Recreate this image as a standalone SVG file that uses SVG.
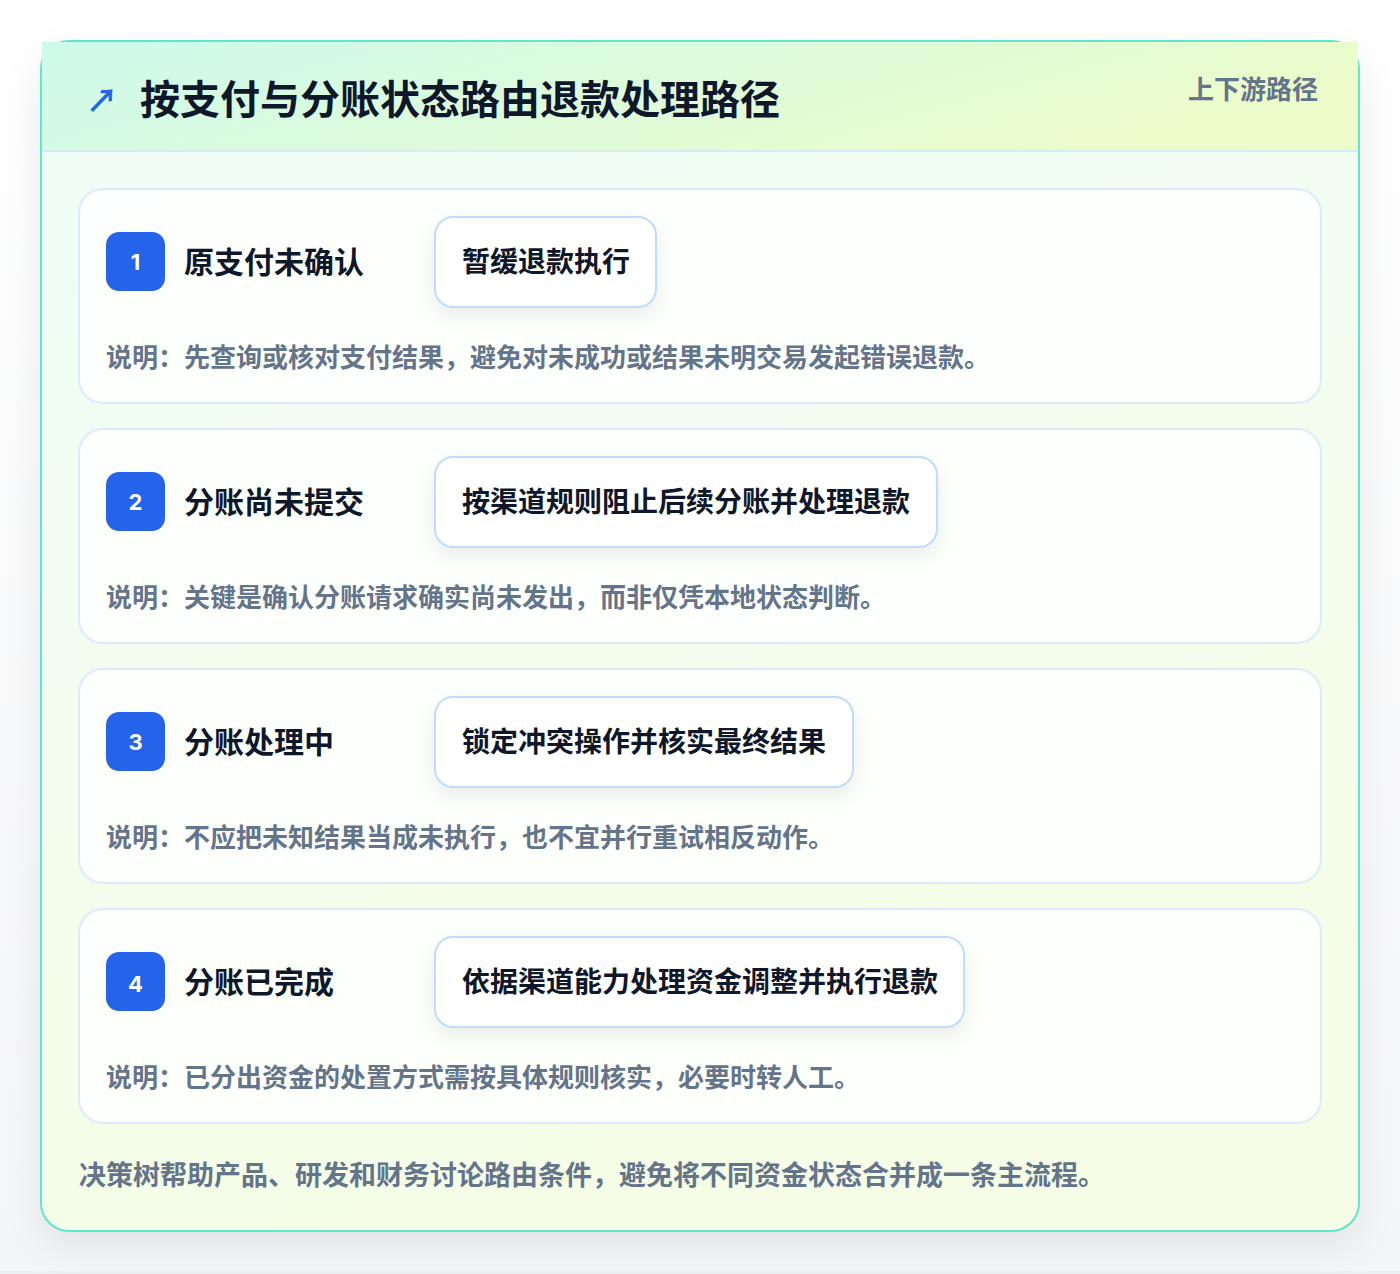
<svg xmlns="http://www.w3.org/2000/svg" width="1400" height="1274" viewBox="0 0 1400 1274">
<defs>
<linearGradient id="pageBg" x1="0" y1="0" x2="0" y2="1"><stop offset="0" stop-color="#ffffff"/><stop offset="1" stop-color="#f4f5f7"/></linearGradient>
<linearGradient id="bodyBg" x1="0" y1="0" x2="0.3" y2="1"><stop offset="0" stop-color="#effdf8"/><stop offset="1" stop-color="#f5fde6"/></linearGradient>
<linearGradient id="headBg" x1="0" y1="0" x2="1" y2="0.3"><stop offset="0" stop-color="#cdfaec"/><stop offset="1" stop-color="#ecfccb"/></linearGradient>
<filter id="cardShadow" x="-10%" y="-10%" width="120%" height="125%"><feDropShadow dx="0" dy="14" stdDeviation="18" flood-color="#0f172a" flood-opacity="0.08"/></filter>
<filter id="boxShadow" x="-20%" y="-40%" width="140%" height="190%"><feDropShadow dx="0" dy="8" stdDeviation="9" flood-color="#0f172a" flood-opacity="0.07"/></filter>
<style>
.cjk{font-family:"Noto Sans CJK SC","Noto Sans",sans-serif;font-weight:700}
.title{font-size:40px;fill:#0f172a}
.tag{font-size:26px;fill:#64748b}
.row{fill:#ffffff;fill-opacity:0.82;stroke:#dbeafe;stroke-width:2}
.badge{fill:#2563eb}
.num{font-family:Inter,"Noto Sans",sans-serif;font-weight:700;font-size:22px;fill:#ffffff}
.label{font-size:30px;fill:#0f172a}
.act{fill:#ffffff;stroke:#bfdbfe;stroke-width:2}
.acttxt{font-size:28px;fill:#0f172a}
.desc{font-size:26px;fill:#64748b}
.foot{font-size:27px;fill:#64748b}
</style>
</defs>
<rect x="0" y="0" width="1400" height="1274" fill="url(#pageBg)"/>
<rect x="0" y="1271" width="1400" height="3" fill="#eceef2"/>
<g id="card">
<rect x="41" y="41" width="1318" height="1190" rx="28" fill="url(#bodyBg)" filter="url(#cardShadow)"/>
<rect x="41" y="41" width="1318" height="1190" rx="28" fill="none" stroke="#5ee6cf" stroke-width="2"/>
<rect x="42" y="42" width="1316" height="109" fill="url(#headBg)"/>
<line x1="42" y1="151" x2="1358" y2="151" stroke="#d6ecf5" stroke-width="2"/>
</g>
<g id="header">
<text x="86" y="112" class="cjk" font-size="32" fill="#2563eb">↗</text>
<text x="140" y="114" class="cjk title">按支付与分账状态路由退款处理路径</text>
<text x="1318" y="99" class="cjk tag" text-anchor="end">上下游路径</text>
</g>
<g id="connectors"></g>
<g id="row1">
<rect x="79" y="189" width="1242" height="214" rx="24" class="row"/>
<rect x="106" y="232" width="59" height="59" rx="13" class="badge"/>
<text x="135.5" y="269.5" class="num" text-anchor="middle">1</text>
<text x="184" y="273" class="cjk label">原支付未确认</text>
<rect x="435" y="217" width="221" height="90" rx="18" class="act" filter="url(#boxShadow)"/>
<text x="462" y="271.5" class="cjk acttxt">暂缓退款执行</text>
<text x="106" y="367" class="cjk desc">说明：先查询或核对支付结果，避免对未成功或结果未明交易发起错误退款。</text>
</g>
<g id="row2">
<rect x="79" y="429" width="1242" height="214" rx="24" class="row"/>
<rect x="106" y="472" width="59" height="59" rx="13" class="badge"/>
<text x="135.5" y="509.5" class="num" text-anchor="middle">2</text>
<text x="184" y="513" class="cjk label">分账尚未提交</text>
<rect x="435" y="457" width="502" height="90" rx="18" class="act" filter="url(#boxShadow)"/>
<text x="462" y="511.5" class="cjk acttxt">按渠道规则阻止后续分账并处理退款</text>
<text x="106" y="607" class="cjk desc">说明：关键是确认分账请求确实尚未发出，而非仅凭本地状态判断。</text>
</g>
<g id="row3">
<rect x="79" y="669" width="1242" height="214" rx="24" class="row"/>
<rect x="106" y="712" width="59" height="59" rx="13" class="badge"/>
<text x="135.5" y="749.5" class="num" text-anchor="middle">3</text>
<text x="184" y="753" class="cjk label">分账处理中</text>
<rect x="435" y="697" width="418" height="90" rx="18" class="act" filter="url(#boxShadow)"/>
<text x="462" y="751.5" class="cjk acttxt">锁定冲突操作并核实最终结果</text>
<text x="106" y="847" class="cjk desc">说明：不应把未知结果当成未执行，也不宜并行重试相反动作。</text>
</g>
<g id="row4">
<rect x="79" y="909" width="1242" height="214" rx="24" class="row"/>
<rect x="106" y="952" width="59" height="59" rx="13" class="badge"/>
<text x="135.5" y="991.5" class="num" text-anchor="middle">4</text>
<text x="184" y="993" class="cjk label">分账已完成</text>
<rect x="435" y="937" width="529" height="90" rx="18" class="act" filter="url(#boxShadow)"/>
<text x="462" y="991.5" class="cjk acttxt">依据渠道能力处理资金调整并执行退款</text>
<text x="106" y="1087" class="cjk desc">说明：已分出资金的处置方式需按具体规则核实，必要时转人工。</text>
</g>
<g id="footer">
<text x="79" y="1185" class="cjk foot">决策树帮助产品、研发和财务讨论路由条件，避免将不同资金状态合并成一条主流程。</text>
</g>
</svg>
